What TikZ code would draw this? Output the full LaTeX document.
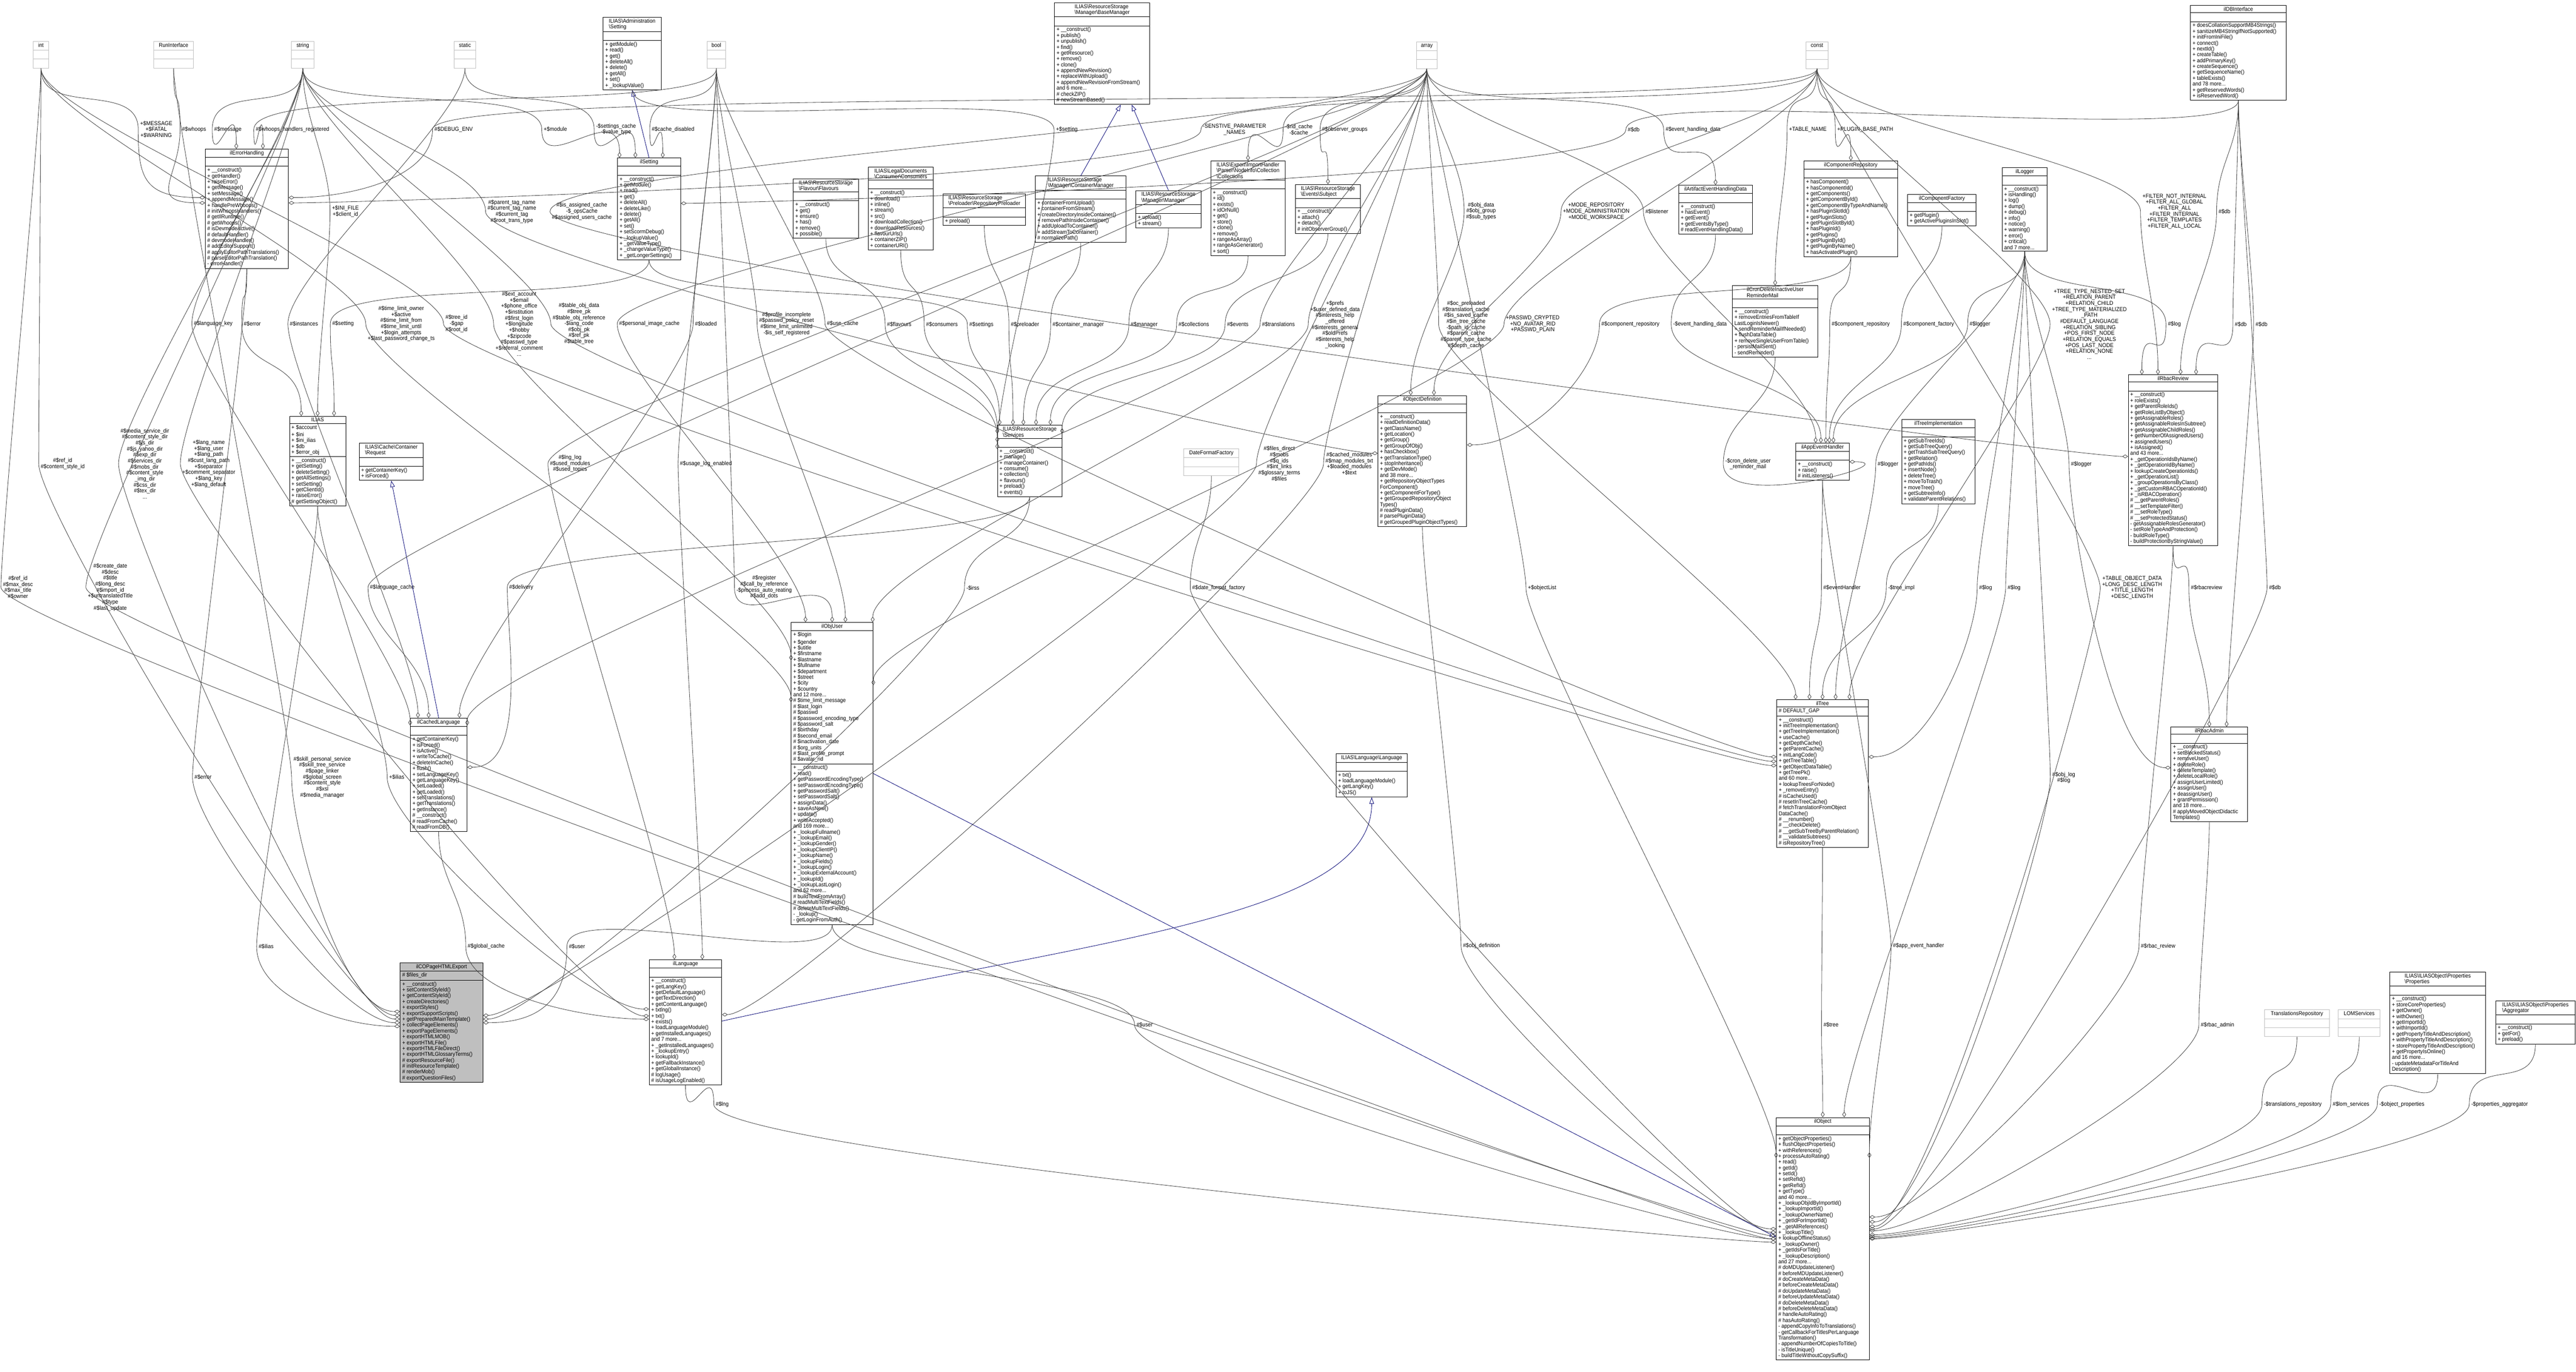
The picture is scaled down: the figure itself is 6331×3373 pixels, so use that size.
\documentclass[tikz,border=0pt]{standalone}
\usepackage{fontspec}
\setmainfont{Liberation Sans}[FakeStretch=0.92]
\usetikzlibrary{positioning,shapes.multipart,arrows.meta}

\newcommand{\bsl}{\textbackslash}
\tikzset{
  cls/.style={draw=black, line width=0.35pt, fill=white, rectangle split, rectangle split parts=3,
    rectangle split part align={center,left,left}, align=left, anchor=north west,
    inner xsep=0.05cm, inner ysep=0.9pt, font=\fontsize{3.9}{4.1}\selectfont},
  typ/.style={cls, draw=black!25},
  lbl/.style={align=center, inner sep=1.2pt, font=\fontsize{4}{4.2}\selectfont},
  agg/.style={draw=black!75, line width=0.3pt, -{Diamond[open,length=4pt,width=2.6pt]}},
  inh/.style={draw=blue!45!black, line width=0.3pt, -{Triangle[open,length=4.5pt,width=3.2pt]}}
}
% class box: [opts]{name}{x,y}{width}{title}{attributes}{methods}
\newcommand{\umlcls}[7][]{\node[cls,minimum width={#4cm+0.1cm},#1] (#2) at (#3) {#5\nodepart{two}\strut #6\nodepart{three}#7};}
% plain type box
\newcommand{\umltyp}[4]{\node[typ,minimum width={#3cm+0.1cm}] (#1) at (#2) {\strut #4\nodepart{two}\strut\nodepart{three}\strut};}
% aggregation through a label
\newcommand{\aggr}[4]{\draw[agg] (#1) .. controls +(0,120) and +(0,-120) .. (#2.west) .. controls +(0,120) and +(-#4:150) .. (#3);}

\begin{document}
\fontsize{3.9}{4.1}\selectfont
\begin{tikzpicture}[x=0.01cm,y=-0.01cm]
    \useasboundingbox (0,0) rectangle (6331,3373);

    % plain types
    \umltyp{int}{81,101}{0.28}{int}
    \umltyp{runif}{377,101}{0.88}{RunInterface}
    \umltyp{str}{716,101}{0.45}{string}
    \umltyp{static}{1115,101}{0.44}{static}
    \umltyp{bool}{1737,101}{0.36}{bool}
    \umltyp{arr}{3481,102}{0.40}{array}
    \umltyp{const}{4438,102}{0.44}{const}
    \umltyp{dff}{2909,1103}{1.25}{DateFormatFactory}
    \umltyp{trrep}{5565,2482}{1.49}{TranslationsRepository}
    \umltyp{lom}{5746,2482}{0.93}{LOMServices}

    % classes
    \umlcls{admset}{1482,42}{1.32}{ILIAS\bsl Administration\\\bsl Setting}{}{+ getModule()\\+ read()\\+ get()\\+ deleteAll()\\+ delete()\\+ getAll()\\+ set()\\+ \_lookupValue()}
    \umlcls{errh}{504,366}{1.94}{ilErrorHandling}{}{+ \_\_construct()\\+ getHandler()\\+ raiseError()\\+ getMessage()\\+ setMessage()\\+ appendMessage()\\+ handlePreWhoops()\\\# initWhoopsHandlers()\\\# getIlRuntime()\\\# getWhoops()\\\# isDevmodeActive()\\\# defaultHandler()\\\# devmodeHandler()\\\# addEditorSupport()\\\# applyEditorPathTranslations()\\\# parseEditorPathTranslation()\\- errorHandler()}
    \umlcls{setg}{1517,388}{1.45}{ilSetting}{}{+ \_\_construct()\\+ getModule()\\+ read()\\+ get()\\+ deleteAll()\\+ deleteLike()\\+ delete()\\+ getAll()\\+ set()\\+ setScormDebug()\\+ \_lookupValue()\\+ \_getValueType()\\+ \_changeValueType()\\+ \_getLongerSettings()}
    \umlcls{flav}{1949,439}{1.50}{ILIAS\bsl ResourceStorage\\\bsl Flavour\bsl Flavours}{}{+ \_\_construct()\\+ get()\\+ ensure()\\+ has()\\+ remove()\\+ possible()}
    \umlcls{cons}{2133,410}{1.50}{ILIAS\bsl LegalDocuments\\\bsl Consumer\bsl Consumers}{}{+ \_\_construct()\\+ download()\\+ inline()\\+ stream()\\+ src()\\+ downloadCollection()\\+ downloadResources()\\+ flavourUrls()\\+ containerZIP()\\+ containerURI()}
    \umlcls{bmgr}{2591,6}{2.24}{ILIAS\bsl ResourceStorage\\\bsl Manager\bsl BaseManager}{}{+ \_\_construct()\\+ publish()\\+ unpublish()\\+ find()\\+ getResource()\\+ remove()\\+ clone()\\+ appendNewRevision()\\+ replaceWithUpload()\\+ appendNewRevisionFromStream()\\and 6 more...\\\# checkZIP()\\\# newStreamBased()}
    \umlcls{prel}{2317,476}{1.93}{ILIAS\bsl ResourceStorage\\\bsl Preloader\bsl RepositoryPreloader}{}{+ preload()}
    \umlcls{cmgr}{2544,432}{2.13}{ILIAS\bsl ResourceStorage\\\bsl Manager\bsl ContainerManager}{}{+ containerFromUpload()\\+ containerFromStream()\\+ createDirectoryInsideContainer()\\+ removePathInsideContainer()\\+ addUploadToContainer()\\+ addStreamToContainer()\\\# normalizePath()}
    \umlcls{mgr}{2791,468}{1.50}{ILIAS\bsl ResourceStorage\\\bsl Manager\bsl Manager}{}{+ upload()\\+ stream()}
    \umlcls{coll}{2975,395}{1.73}{ILIAS\bsl Export\bsl ImportHandler\\\bsl Parser\bsl NodeInfo\bsl Collection\\\bsl Collections}{}{+ \_\_construct()\\+ id()\\+ exists()\\+ idOrNull()\\+ get()\\+ store()\\+ clone()\\+ remove()\\+ rangeAsArray()\\+ rangeAsGenerator()\\+ sort()}
    \umlcls{subj}{3183,453}{1.50}{ILIAS\bsl ResourceStorage\\\bsl Events\bsl Subject}{}{+ \_\_construct()\\+ attach()\\+ detach()\\\# initObserverGroup()}
    \umlcls{dbi}{5383,13}{2.25}{ilDBInterface}{}{+ doesCollationSupportMB4Strings()\\+ sanitizeMB4StringIfNotSupported()\\+ initFromIniFile()\\+ connect()\\+ nextId()\\+ createTable()\\+ addPrimaryKey()\\+ createSequence()\\+ getSequenceName()\\+ tableExists()\\and 78 more...\\+ getReservedWords()\\+ isReservedWord()}
    \umlcls{artev}{4125,455}{1.71}{ilArtifactEventHandlingData}{}{+ \_\_construct()\\+ hasEvent()\\+ getEvent()\\+ getEventsByType()\\\# readEventHandlingData()}
    \umlcls{comprep}{4433,395}{2.20}{ilComponentRepository}{}{+ hasComponent()\\+ hasComponentId()\\+ getComponents()\\+ getComponentById()\\+ getComponentByTypeAndName()\\+ hasPluginSlotId()\\+ getPluginSlots()\\+ getPluginSlotById()\\+ hasPluginId()\\+ getPlugins()\\+ getPluginById()\\+ getPluginByName()\\+ hasActivatedPlugin()}
    \umlcls{compfac}{4688,477}{1.58}{ilComponentFactory}{}{+ getPlugin()\\+ getActivePluginsInSlot()}
    \umlcls{logger}{4920,412}{1.01}{ilLogger}{}{+ \_\_construct()\\+ isHandling()\\+ log()\\+ dump()\\+ debug()\\+ info()\\+ notice()\\+ warning()\\+ error()\\+ critical()\\and 7 more...}
    \umlcls{cron}{4257,702}{2.00}{ilCronDeleteInactiveUser\\ReminderMail}{}{+ \_\_construct()\\+ removeEntriesFromTableIf\\LastLoginIsNewer()\\+ sendReminderMailIfNeeded()\\+ flushDataTable()\\+ removeSingleUserFromTable()\\- persistMailSent()\\- sendReminder()}
    \umlcls{appev}{4413,1089}{1.21}{ilAppEventHandler}{}{+ \_\_construct()\\+ raise()\\\# initListeners()}
    \umlcls{treeimp}{4673,1031}{1.70}{ilTreeImplementation}{}{+ getSubTreeIds()\\+ getSubTreeQuery()\\+ getTrashSubTreeQuery()\\+ getRelation()\\+ getPathIds()\\+ insertNode()\\+ deleteTree()\\+ moveToTrash()\\+ moveTree()\\+ getSubtreeInfo()\\+ validateParentRelations()}
    \umlcls{rbrev}{5230,921}{2.10}{ilRbacReview}{}{+ \_\_construct()\\+ roleExists()\\+ getParentRoleIds()\\+ getRoleListByObject()\\+ getAssignableRoles()\\+ getAssignableRolesInSubtree()\\+ getAssignableChildRoles()\\+ getNumberOfAssignedUsers()\\+ assignedUsers()\\+ isAssigned()\\and 43 more...\\+ \_getOperationIdsByName()\\+ \_getOperationIdByName()\\+ lookupCreateOperationIds()\\+ \_getOperationList()\\+ \_groupOperationsByClass()\\+ \_getCustomRBACOperationId()\\+ \_isRBACOperation()\\\# \_\_getParentRoles()\\\# \_\_setTemplateFilter()\\\# \_\_setRoleType()\\\# \_\_setProtectedStatus()\\- getAssignableRolesGenerator()\\- setRoleTypeAndProtection()\\- buildRoleType()\\- buildProtectionByStringValue()}
    \umlcls{ilias}{711,1023}{1.28}{ILIAS}{+ \$account\\+ \$ini\\+ \$ini\_ilias\\+ \$db\\+ \$error\_obj}{+ \_\_construct()\\+ getSetting()\\+ deleteSetting()\\+ getAllSettings()\\+ setSetting()\\+ getClientId()\\+ raiseError()\\\# getSettingObject()}
    \umlcls{req}{882,1089}{1.48}{ILIAS\bsl Cache\bsl Container\\\bsl Request}{}{+ getContainerKey()\\+ isForced()}
    \umlcls{cachlang}{1008,1765}{1.29}{ilCachedLanguage}{}{+ getContainerKey()\\+ isForced()\\+ isActive()\\+ writeToCache()\\+ deleteInCache()\\+ flush()\\+ setLanguageKey()\\+ getLanguageKey()\\+ setLoaded()\\+ getLoaded()\\+ setTranslations()\\+ getTranslations()\\+ getInstance()\\\# \_\_construct()\\\# readFromCache()\\\# readFromDB()}
    \umlcls{objuser}{1944,1530}{1.91}{ilObjUser}{+ \$login\\+ \$gender\\+ \$utitle\\+ \$firstname\\+ \$lastname\\+ \$fullname\\+ \$department\\+ \$street\\+ \$city\\+ \$country\\and 12 more...\\\# \$time\_limit\_message\\\# \$last\_login\\\# \$passwd\\\# \$password\_encoding\_type\\\# \$password\_salt\\\# \$birthday\\\# \$second\_email\\\# \$inactivation\_date\\\# \$org\_units\\\# \$last\_profile\_prompt\\\# \$avatar\_rid}{+ \_\_construct()\\+ read()\\+ getPasswordEncodingType()\\+ setPasswordEncodingType()\\+ getPasswordSalt()\\+ setPasswordSalt()\\+ assignData()\\+ saveAsNew()\\+ update()\\+ writeAccepted()\\and 169 more...\\+ \_lookupFullname()\\+ \_lookupEmail()\\+ \_lookupGender()\\+ \_lookupClientIP()\\+ \_lookupName()\\+ \_lookupFields()\\+ \_lookupLogin()\\+ \_lookupExternalAccount()\\+ \_lookupId()\\+ \_lookupLastLogin()\\and 62 more...\\\# buildTextFromArray()\\\# readMultiTextFields()\\\# deleteMultiTextFields()\\- \_lookup()\\- getLoginFromAuth()}
    \umlcls{svc}{2451,1045}{1.48}{ILIAS\bsl ResourceStorage\\\bsl Services}{}{+ \_\_construct()\\+ manage()\\+ manageContainer()\\+ consume()\\+ collection()\\+ flavours()\\+ preload()\\+ events()}
    \umlcls{objdef}{3386,972}{2.08}{ilObjectDefinition}{}{+ \_\_construct()\\+ readDefinitionData()\\+ getClassName()\\+ getLocation()\\+ getGroup()\\+ getGroupOfObj()\\+ hasCheckbox()\\+ getTranslationType()\\+ stopInheritance()\\+ getDevMode()\\and 38 more...\\+ getRepositoryObjectTypes\\ForComponent()\\+ getComponentForType()\\+ getGroupedRepositoryObject\\Types()\\\# readPluginData()\\\# parsePluginData()\\\# getGroupedPluginObjectTypes()}
    \umlcls{langif}{3283,1853}{1.65}{ILIAS\bsl Language\bsl Language}{}{+ txt()\\+ loadLanguageModule()\\+ getLangKey()\\+ toJS()}
    \umlcls[fill=black!25]{copage}{983,2367}{1.93}{ilCOPageHTMLExport}{\# \$files\_dir}{+ \_\_construct()\\+ setContentStyleId()\\+ getContentStyleId()\\+ createDirectories()\\+ exportStyles()\\+ exportSupportScripts()\\+ getPreparedMainTemplate()\\+ collectPageElements()\\+ exportPageElements()\\+ exportHTMLMOB()\\+ exportHTMLFile()\\+ exportHTMLFileDirect()\\+ exportHTMLGlossaryTerms()\\\# exportResourceFile()\\\# initResourceTemplate()\\\# renderMob()\\\# exportQuestionFiles()}
    \umlcls{lang}{1595,2359}{1.68}{ilLanguage}{}{+ \_\_construct()\\+ getLangKey()\\+ getDefaultLanguage()\\+ getTextDirection()\\+ getContentLanguage()\\+ txtlng()\\+ txt()\\+ exists()\\+ loadLanguageModule()\\+ getInstalledLanguages()\\and 7 more...\\+ \_getInstalledLanguages()\\+ \_lookupEntry()\\+ lookupId()\\+ getFallbackInstance()\\+ getGlobalInstance()\\\# logUsage()\\\# isUsageLogEnabled()}
    \umlcls{tree}{4366,1720}{2.15}{ilTree}{\# DEFAULT\_GAP}{+ \_\_construct()\\+ initTreeImplementation()\\+ getTreeImplementation()\\+ useCache()\\+ getDepthCache()\\+ getParentCache()\\+ initLangCode()\\+ getTreeTable()\\+ getObjectDataTable()\\+ getTreePk()\\and 60 more...\\+ lookupTreesForNode()\\+ \_removeEntry()\\\# isCacheUsed()\\\# resetInTreeCache()\\\# fetchTranslationFromObject\\DataCache()\\\# \_\_renumber()\\\# \_\_checkDelete()\\\# \_\_getSubTreeByParentRelation()\\\# \_\_validateSubtrees()\\\# isRepositoryTree()}
    \umlcls{rbadm}{5335,1787}{1.78}{ilRbacAdmin}{}{+ \_\_construct()\\+ setBlockedStatus()\\+ removeUser()\\+ deleteRole()\\+ deleteTemplate()\\+ deleteLocalRole()\\+ assignUserLimited()\\+ assignUser()\\+ deassignUser()\\+ grantPermission()\\and 18 more...\\\# applyMovedObjectDidactic\\Templates()}
    \umlcls{obj}{4365,2747}{2.18}{ilObject}{}{+ getObjectProperties()\\+ flushObjectProperties()\\+ withReferences()\\+ processAutoRating()\\+ read()\\+ getId()\\+ setId()\\+ setRefId()\\+ getRefId()\\+ getType()\\and 40 more...\\+ \_lookupObjIdByImportId()\\+ \_lookupImportId()\\+ \_lookupOwnerName()\\+ \_getIdForImportId()\\+ \_getAllReferences()\\+ \_lookupTitle()\\+ lookupOfflineStatus()\\+ \_lookupOwner()\\+ \_getIdsForTitle()\\+ \_lookupDescription()\\and 27 more...\\\# doMDUpdateListener()\\\# beforeMDUpdateListener()\\\# doCreateMetaData()\\\# beforeCreateMetaData()\\\# doUpdateMetaData()\\\# beforeUpdateMetaData()\\\# doDeleteMetaData()\\\# beforeDeleteMetaData()\\\# handleAutoRating()\\\# hasAutoRating()\\- appendCopyInfoToTranslations()\\- getCallbackForTitlesPerLanguage\\Transformation()\\- appendNumberOfCopiesToTitle()\\- isTitleUnique()\\- buildTitleWithoutCopySuffix()}
    \umlcls{props}{5873,2389}{2.25}{ILIAS\bsl ILIASObject\bsl Properties\\\bsl Properties}{}{+ \_\_construct()\\+ storeCoreProperties()\\+ getOwner()\\+ withOwner()\\+ getImportId()\\+ withImportId()\\+ getPropertyTitleAndDescription()\\+ withPropertyTitleAndDescription()\\+ storePropertyTitleAndDescription()\\+ getPropertyIsOnline()\\and 16 more...\\- updateMetadataForTitleAnd\\Description()}
    \umlcls{aggre}{6133,2460}{1.85}{ILIAS\bsl ILIASObject\bsl Properties\\\bsl Aggregator}{}{+ \_\_construct()\\+ getFor()\\+ preload()}

    % connector labels
    \node[lbl] (l-fatal) at (384,318) {+\$MESSAGE\\+\$FATAL\\+\$WARNING};
    \node[lbl] (l-whoops) at (477,318) {\#\$whoops};
    \node[lbl] (l-message) at (560,318) {\#\$message};
    \node[lbl] (l-whreg) at (719,318) {\#\$whoops\_handlers\_registered};
    \node[lbl] (l-debug) at (1115,318) {\#\$DEBUG\_ENV};
    \node[lbl] (l-module) at (1365,318) {+\$module};
    \node[lbl] (l-setcache) at (1514,318) {-\$settings\_cache\\-\$value\_type};
    \node[lbl] (l-cachedis) at (1654,318) {\#\$cache\_disabled};
    \node[lbl] (l-setting1) at (2622,319) {+\$setting};
    \node[lbl] (l-sensitive) at (3034,319) {-SENSTIVE\_PARAMETER\\\_NAMES};
    \node[lbl] (l-ridcache) at (3192,319) {-\$rid\_cache\\-\$cache};
    \node[lbl] (l-obsgroups) at (3305,319) {\#\$observer\_groups};
    \node[lbl] (l-db1) at (4015,319) {\#\$db};
    \node[lbl] (l-evdata1) at (4161,319) {\#\$event\_handling\_data};
    \node[lbl] (l-tablename) at (4443,319) {+TABLE\_NAME};
    \node[lbl] (l-pluginpath) at (4584,319) {+PLUGIN\_BASE\_PATH};
    \node[lbl] (l-inifile) at (849,520) {+\$INI\_FILE\\+\$client\_id};
    \node[lbl] (l-tagname) at (1258,520) {\#\$parent\_tag\_name\\\#\$current\_tag\_name\\\#\$current\_tag\\\#\$root\_trans\_type};
    \node[lbl] (l-assigned) at (1430,520) {\#\$is\_assigned\_cache\\-\$\_opsCache\\\#\$assigned\_users\_cache};
    \node[lbl] (l-objdata) at (3640,519) {\#\$obj\_data\\\#\$obj\_group\\\#\$sub\_types};
    \node[lbl] (l-mode) at (3923,520) {+MODE\_REPOSITORY\\+MODE\_ADMINISTRATION\\+MODE\_WORKSPACE};
    \node[lbl] (l-listener) at (4072,520) {\#\$listener};
    \node[lbl] (l-filter) at (5344,520) {+FILTER\_NOT\_INTERNAL\\+FILTER\_ALL\_GLOBAL\\+FILTER\_ALL\\+FILTER\_INTERNAL\\+FILTER\_TEMPLATES\\+FILTER\_ALL\_LOCAL};
    \node[lbl] (l-db2) at (5467,520) {\#\$db};
    \node[lbl] (l-langkey) at (524,796) {\#\$language\_key};
    \node[lbl] (l-error1) at (620,796) {\#\$error};
    \node[lbl] (l-instances) at (747,796) {\#\$instances};
    \node[lbl] (l-setting2) at (843,796) {\#\$setting};
    \node[lbl] (l-timelimit) at (986,796) {\#\$time\_limit\_owner\\+\$active\\\#\$time\_limit\_from\\\#\$time\_limit\_until\\+\$login\_attempts\\+\$last\_password\_change\_ts};
    \node[lbl] (l-treeid) at (1122,796) {\#\$tree\_id\\-\$gap\\\#\$root\_id};
    \node[lbl] (l-extacc) at (1276,796) {\#\$ext\_account\\+\$email\\+\$phone\_office\\+\$institution\\\#\$first\_login\\+\$longitude\\+\$hobby\\+\$zipcode\\\#\$passwd\_type\\+\$referral\_comment\\...};
    \node[lbl] (l-tableobj) at (1423,796) {\#\$table\_obj\_data\\\#\$tree\_pk\\\#\$table\_obj\_reference\\-\$lang\_code\\\#\$obj\_pk\\\#\$ref\_pk\\\#\$table\_tree};
    \node[lbl] (l-imgcache) at (1596,796) {\#\$personal\_image\_cache};
    \node[lbl] (l-loaded) at (1735,796) {\#\$loaded};
    \node[lbl] (l-profile) at (1933,796) {\#\$profile\_incomplete\\\#\$passwd\_policy\_reset\\\#\$time\_limit\_unlimited\\-\$is\_self\_registered};
    \node[lbl] (l-usecache) at (2071,796) {\#\$use\_cache};
    \node[lbl] (l-flavours) at (2210,797) {\#\$flavours};
    \node[lbl] (l-consumers) at (2315,798) {\#\$consumers};
    \node[lbl] (l-settings) at (2412,798) {\#\$settings};
    \node[lbl] (l-preloader) at (2519,798) {\#\$preloader};
    \node[lbl] (l-contmgr) at (2650,798) {\#\$container\_manager};
    \node[lbl] (l-manager) at (2812,798) {\#\$manager};
    \node[lbl] (l-collections) at (2934,798) {\#\$collections};
    \node[lbl] (l-events) at (3042,798) {\#\$events};
    \node[lbl] (l-translations) at (3142,798) {\#\$translations};
    \node[lbl] (l-prefs) at (3281,798) {+\$prefs\\+\$user\_defined\_data\\\#\$interests\_help\\\_offered\\\#\$interests\_general\\\#\$oldPrefs\\\#\$interests\_help\\\_looking};
    \node[lbl] (l-preloaded) at (3603,798) {\#\$oc\_preloaded\\\#\$translation\_cache\\\#\$is\_saved\_cache\\\#\$in\_tree\_cache\\-\$path\_id\_cache\\\#\$parent\_cache\\\#\$parent\_type\_cache\\\#\$depth\_cache};
    \node[lbl] (l-passwd) at (3767,797) {+PASSWD\_CRYPTED\\+NO\_AVATAR\_RID\\+PASSWD\_PLAIN};
    \node[lbl] (l-comprep1) at (4007,797) {\#\$component\_repository};
    \node[lbl] (l-evdata2) at (4178,797) {-\$event\_handling\_data};
    \node[lbl] (l-comprep2) at (4573,797) {\#\$component\_repository};
    \node[lbl] (l-compfac) at (4740,797) {\#\$component\_factory};
    \node[lbl] (l-logger1) at (4866,797) {\#\$logger};
    \node[lbl] (l-treetype) at (5135,797) {+TREE\_TYPE\_NESTED\_SET\\+RELATION\_PARENT\\+RELATION\_CHILD\\+TREE\_TYPE\_MATERIALIZED\\\_PATH\\\#DEFAULT\_LANGUAGE\\+RELATION\_SIBLING\\+POS\_FIRST\_NODE\\+RELATION\_EQUALS\\+POS\_LAST\_NODE\\+RELATION\_NONE\\...};
    \node[lbl] (l-log1) at (5344,797) {\#\$log};
    \node[lbl] (l-db3) at (5507,797) {\#\$db};
    \node[lbl] (l-db4) at (5558,797) {\#\$db};
    \node[lbl] (l-refid1) at (154,1140) {\#\$ref\_id\\\#\$content\_style\_id};
    \node[lbl] (l-dirs) at (356,1140) {\#\$media\_service\_dir\\\#\$content\_style\_dir\\\#\$js\_dir\\\#\$js\_yahoo\_dir\\\#\$exp\_dir\\\#\$services\_dir\\\#\$mobs\_dir\\\#\$content\_style\\\_img\_dir\\\#\$css\_dir\\\#\$tex\_dir\\...};
    \node[lbl] (l-langname) at (513,1140) {+\$lang\_name\\+\$lang\_user\\+\$lang\_path\\\#\$cust\_lang\_path\\+\$separator\\+\$comment\_separator\\+\$lang\_key\\+\$lang\_default};
    \node[lbl] (l-lnglog) at (1401,1140) {\#\$lng\_log\\\#\$used\_modules\\\#\$used\_topics};
    \node[lbl] (l-usagelog) at (1735,1140) {\#\$usage\_log\_enabled};
    \node[lbl] (l-files) at (3144,1140) {\#\$files\_direct\\\#\$mobs\\\#\$q\_ids\\\#\$int\_links\\\#\$glossary\_terms\\\#\$files};
    \node[lbl] (l-modules) at (3316,1140) {\#\$cached\_modules\\\#\$map\_modules\_txt\\+\$loaded\_modules\\+\$text};
    \node[lbl] (l-cronmail) at (4296,1141) {-\$cron\_delete\_user\\\_reminder\_mail};
    \node[lbl] (l-logger2) at (4640,1141) {\#\$logger};
    \node[lbl] (l-logger3) at (5115,1141) {\#\$logger};
    \node[lbl] (l-refid2) at (44,1444) {\#\$ref\_id\\\#\$max\_desc\\\#\$max\_title\\\#\$owner};
    \node[lbl] (l-createdate) at (271,1444) {\#\$create\_date\\\#\$desc\\\#\$title\\\#\$long\_desc\\\#\$import\_id\\+\$untranslatedTitle\\\#\$type\\\#\$last\_update};
    \node[lbl] (l-langcache) at (964,1444) {\#\$language\_cache};
    \node[lbl] (l-delivery) at (1281,1444) {\#\$delivery};
    \node[lbl] (l-register) at (1878,1444) {\#\$register\\\#\$call\_by\_reference\\-\$process\_auto\_reating\\\#\$add\_dots};
    \node[lbl] (l-irss) at (2391,1446) {-\$irss};
    \node[lbl] (l-dateformat) at (2995,1446) {\#\$date\_format\_factory};
    \node[lbl] (l-objlist) at (3790,1446) {+\$objectList};
    \node[lbl] (l-evhandler) at (4527,1445) {\#\$eventHandler};
    \node[lbl] (l-treeimpl) at (4673,1445) {-\$tree\_impl};
    \node[lbl] (l-log2) at (4880,1445) {\#\$log};
    \node[lbl] (l-log3) at (4950,1445) {\#\$log};
    \node[lbl] (l-tableobjdata) at (5240,1445) {+TABLE\_OBJECT\_DATA\\+LONG\_DESC\_LENGTH\\+TITLE\_LENGTH\\+DESC\_LENGTH};
    \node[lbl] (l-rbacreview) at (5423,1445) {\#\$rbacreview};
    \node[lbl] (l-db5) at (5591,1445) {\#\$db};
    \node[lbl] (l-error2) at (499,1911) {\#\$error};
    \node[lbl] (l-skill) at (792,1911) {\#\$skill\_personal\_service\\\#\$skill\_tree\_service\\\#\$page\_linker\\\#\$global\_screen\\\#\$content\_style\\\#\$xsl\\\#\$media\_manager};
    \node[lbl] (l-ilias1) at (975,1911) {+\$ilias};
    \node[lbl] (l-objlog) at (5072,1912) {\#\$obj\_log\\\#\$log};
    \node[lbl] (l-ilias2) at (654,2327) {\#\$ilias};
    \node[lbl] (l-globcache) at (1195,2327) {\#\$global\_cache};
    \node[lbl] (l-user1) at (1418,2327) {\#\$user};
    \node[lbl] (l-objdef) at (3641,2326) {\#\$obj\_definition};
    \node[lbl] (l-appev) at (4715,2326) {\#\$app\_event\_handler};
    \node[lbl] (l-rbrev) at (5304,2326) {\#\$rbac\_review};
    \node[lbl] (l-user2) at (2813,2519) {\#\$user};
    \node[lbl] (l-tree) at (4500,2520) {\#\$tree};
    \node[lbl] (l-rbadm) at (5450,2520) {\#\$rbac\_admin};
    \node[lbl] (l-lng) at (1775,2715) {\#\$lng};
    \node[lbl] (l-trrep) at (5635,2715) {-\$translations\_repository};
    \node[lbl] (l-lom) at (5778,2715) {\#\$lom\_services};
    \node[lbl] (l-objprops) at (5903,2715) {-\$object\_properties};
    \node[lbl] (l-propaggr) at (6143,2715) {-\$properties\_aggregator};

    % inheritance
    \draw[inh] (setg.north) -- (admset.south);
    \draw[inh] (cmgr.north) -- (bmgr.290);
    \draw[inh] (mgr.north) -- (bmgr.300);
    \draw[inh] (cachlang.north) -- (req.south);
    \draw[inh] (lang.2) .. controls +(900,-200) and +(0,300) .. (langif.south);
    \draw[inh] (objuser.east) -- (obj.178);

    % aggregations
    \aggr{int.south}{l-fatal}{errh.165}{180}
    \aggr{runif.south}{l-whoops}{errh.172}{180}
    \aggr{str.south}{l-message}{errh.100}{90}
    \aggr{bool.south}{l-whreg}{errh.75}{90}
    \aggr{const.south}{l-debug}{errh.15}{0}
    \aggr{const.south}{l-sensitive}{errh.8}{0}
    \aggr{str.south}{l-module}{setg.120}{90}
    \aggr{static.south}{l-setcache}{setg.105}{90}
    \aggr{bool.south}{l-cachedis}{setg.75}{90}
    \aggr{dbi.south}{l-db1}{setg.10}{0}
    \aggr{admset.south}{l-setting1}{svc.160}{90}
    \aggr{arr.south}{l-ridcache}{coll.north}{90}
    \aggr{arr.south}{l-obsgroups}{subj.north}{90}
    \aggr{arr.south}{l-evdata1}{artev.north}{90}
    \aggr{const.south}{l-tablename}{cron.north}{90}
    \aggr{const.south}{l-pluginpath}{comprep.north}{90}
    \aggr{str.south}{l-inifile}{ilias.north}{90}
    \aggr{str.south}{l-tagname}{objdef.170}{180}
    \aggr{arr.south}{l-assigned}{rbrev.175}{180}
    \aggr{arr.south}{l-objdata}{objdef.100}{90}
    \aggr{const.south}{l-mode}{objdef.80}{90}
    \aggr{arr.south}{l-listener}{appev.110}{90}
    \aggr{const.south}{l-filter}{rbrev.100}{90}
    \aggr{dbi.south}{l-db2}{rbrev.85}{90}
    \aggr{str.south}{l-langkey}{cachlang.120}{90}
    \aggr{errh.south}{l-error1}{ilias.110}{90}
    \aggr{static.south}{l-instances}{cachlang.110}{90}
    \aggr{setg.south}{l-setting2}{ilias.70}{90}
    \aggr{int.south}{l-timelimit}{objuser.120}{90}
    \aggr{int.south}{l-treeid}{tree.170}{180}
    \aggr{str.south}{l-extacc}{objuser.110}{90}
    \aggr{str.south}{l-tableobj}{tree.165}{180}
    \aggr{arr.south}{l-imgcache}{objuser.100}{90}
    \aggr{bool.south}{l-loaded}{cachlang.70}{90}
    \aggr{bool.south}{l-profile}{objuser.85}{90}
    \aggr{bool.south}{l-usecache}{tree.160}{180}
    \aggr{flav.south}{l-flavours}{svc.150}{90}
    \aggr{cons.south}{l-consumers}{svc.140}{90}
    \aggr{setg.south}{l-settings}{svc.130}{90}
    \aggr{prel.south}{l-preloader}{svc.115}{90}
    \aggr{cmgr.south}{l-contmgr}{svc.100}{90}
    \aggr{mgr.south}{l-manager}{svc.80}{90}
    \aggr{coll.south}{l-collections}{svc.60}{90}
    \aggr{subj.south}{l-events}{svc.40}{90}
    \aggr{arr.south}{l-translations}{cachlang.60}{90}
    \aggr{arr.south}{l-prefs}{objuser.75}{90}
    \aggr{arr.south}{l-preloaded}{tree.110}{90}
    \aggr{const.south}{l-passwd}{objuser.65}{90}
    \aggr{comprep.south}{l-comprep1}{objdef.20}{0}
    \aggr{artev.south}{l-evdata2}{appev.95}{90}
    \aggr{comprep.south}{l-comprep2}{appev.80}{90}
    \aggr{compfac.south}{l-compfac}{appev.70}{90}
    \aggr{logger.south}{l-logger1}{appev.60}{90}
    \aggr{const.south}{l-treetype}{tree.70}{90}
    \aggr{logger.south}{l-log1}{rbrev.110}{90}
    \aggr{dbi.south}{l-db3}{rbrev.75}{90}
    \aggr{dbi.south}{l-db4}{rbadm.70}{90}
    \aggr{int.south}{l-refid1}{copage.170}{180}
    \aggr{str.south}{l-dirs}{copage.175}{180}
    \aggr{str.south}{l-langname}{lang.170}{180}
    \aggr{arr.south}{l-lnglog}{lang.100}{90}
    \aggr{bool.south}{l-usagelog}{lang.75}{90}
    \aggr{arr.south}{l-files}{copage.10}{0}
    \aggr{arr.south}{l-modules}{lang.12}{0}
    \aggr{cron.south}{l-cronmail}{appev.east}{0}
    \aggr{logger.south}{l-logger2}{tree.80}{90}
    \aggr{logger.south}{l-logger3}{rbadm.170}{180}
    \aggr{int.south}{l-refid2}{obj.176}{180}
    \aggr{str.south}{l-createdate}{obj.180}{180}
    \aggr{arr.south}{l-langcache}{cachlang.100}{90}
    \aggr{svc.south}{l-delivery}{cachlang.15}{0}
    \aggr{bool.south}{l-register}{objuser.north}{90}
    \aggr{svc.south}{l-irss}{copage.5}{0}
    \aggr{dff.south}{l-dateformat}{obj.172}{180}
    \aggr{arr.south}{l-objlist}{obj.120}{90}
    \aggr{appev.south}{l-evhandler}{tree.100}{90}
    \aggr{treeimp.south}{l-treeimpl}{tree.90}{90}
    \aggr{logger.south}{l-log2}{tree.20}{0}
    \aggr{logger.south}{l-log3}{obj.80}{90}
    \aggr{const.south}{l-tableobjdata}{obj.15}{0}
    \aggr{rbrev.south}{l-rbacreview}{rbadm.north}{90}
    \aggr{dbi.south}{l-db5}{obj.12}{0}
    \aggr{errh.south}{l-error2}{copage.180}{180}
    \aggr{runif.south}{l-skill}{copage.165}{180}
    \aggr{ilias.south}{l-ilias1}{lang.160}{180}
    \aggr{logger.south}{l-objlog}{obj.20}{0}
    \aggr{ilias.south}{l-ilias2}{copage.185}{180}
    \aggr{cachlang.south}{l-globcache}{lang.175}{180}
    \aggr{objuser.south}{l-user1}{copage.0}{0}
    \aggr{objdef.south}{l-objdef}{obj.168}{180}
    \aggr{appev.south}{l-appev}{obj.60}{90}
    \aggr{rbrev.south}{l-rbrev}{obj.25}{0}
    \aggr{tree.south}{l-tree}{obj.north}{90}
    \aggr{rbadm.south}{l-rbadm}{obj.10}{0}
    \aggr{lang.south}{l-lng}{obj.184}{180}
    \aggr{objuser.south}{l-user2}{obj.180}{180}
    \aggr{trrep.south}{l-trrep}{obj.5}{0}
    \aggr{lom.south}{l-lom}{obj.3}{0}
    \aggr{props.south}{l-objprops}{obj.1}{0}
    \aggr{aggre.south}{l-propaggr}{obj.0}{0}
\end{tikzpicture}
\end{document}
